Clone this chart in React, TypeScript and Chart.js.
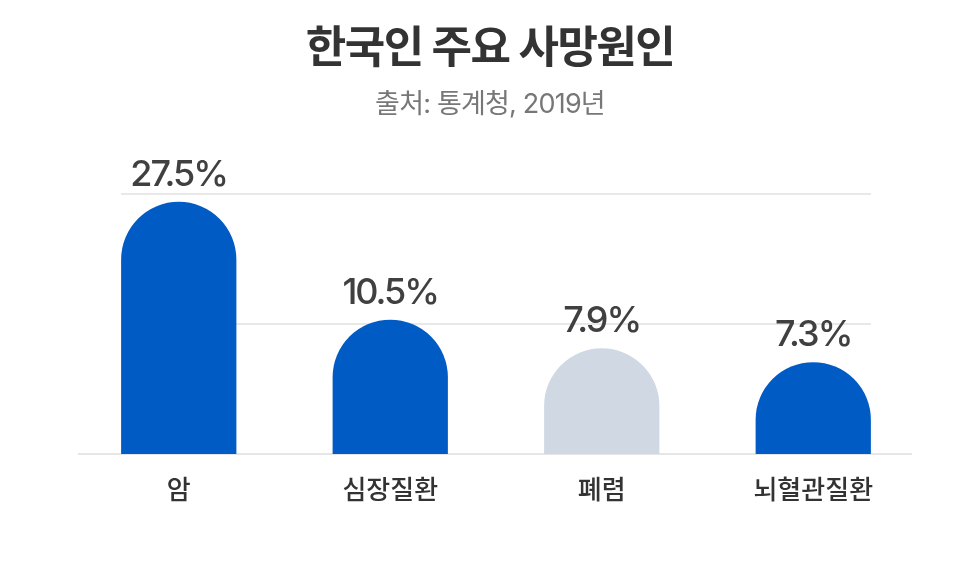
import React, { useEffect, useRef } from 'react';
import { Chart, registerables } from 'chart.js';

Chart.register(...registerables);

// Categories and the displayed share (label text) of each cause of death
const categories = ['암', '심장질환', '폐렴', '뇌혈관질환'];
const shareValues = [27.5, 10.5, 7.9, 7.3];
// The reference's bars are not drawn proportionally to the shares; these are the
// bar heights, in units of the (hidden) y axis 0–30.
const barHeights = [29.1, 15.5, 12.2, 10.6];
// bars start a little below the baseline (clipped away) so every cap is a full half-circle
const barStart = -8;
const barColors = ['#005BC4', '#005BC4', '#D0D8E3', '#005BC4'];
const gridTicks = [15, 30];
const titleText = '한국인 주요 사망원인';
const subtitleText = '출처: 통계청, 2019년';

const FONT = 'Inter, "Noto Sans CJK KR", "Noto Sans", sans-serif';

const decorPlugin = {
  id: 'decor',
  beforeDatasetsDraw(chart: any) {
    const ctx = chart.ctx;
    const meta = chart.getDatasetMeta(0);
    const first = meta.data[0];
    const last = meta.data[meta.data.length - 1];
    const left = first.x - first.width / 2;
    const right = last.x + last.width / 2;
    const y = chart.scales.y;
    ctx.save();
    ctx.strokeStyle = '#E8E8E8';
    ctx.lineWidth = 2;
    gridTicks.forEach((t) => {
      const py = Math.round(y.getPixelForValue(t));
      ctx.beginPath();
      ctx.moveTo(left, py);
      ctx.lineTo(right, py);
      ctx.stroke();
    });
    const by = Math.round(y.getPixelForValue(0));
    ctx.strokeStyle = '#E6E6E6';
    ctx.beginPath();
    ctx.moveTo(chart.chartArea.left + 5, by);
    ctx.lineTo(chart.chartArea.right - 7, by);
    ctx.stroke();
    ctx.restore();
  },
  afterDatasetsDraw(chart: any) {
    const ctx = chart.ctx;
    const meta = chart.getDatasetMeta(0);
    ctx.save();
    ctx.font = `500 36px ${FONT}`;
    (ctx as any).letterSpacing = '-2px';
    ctx.fillStyle = '#404040';
    ctx.textAlign = 'center';
    ctx.textBaseline = 'alphabetic';
    meta.data.forEach((bar: any, i: number) => {
      ctx.fillText(`${shareValues[i]}%`, bar.x, bar.y - 16);
    });
    ctx.restore();
  },
  afterDraw(chart: any) {
    const ctx = chart.ctx;
    const cx = chart.width / 2;
    ctx.save();
    ctx.textAlign = 'center';
    ctx.textBaseline = 'middle';
    ctx.font = `bold 44px ${FONT}`;
    (ctx as any).letterSpacing = '-1.5px';
    ctx.fillStyle = '#333333';
    ctx.fillText(titleText, cx, 50);
    ctx.font = `400 27px ${FONT}`;
    (ctx as any).letterSpacing = '-0.8px';
    ctx.fillStyle = '#777777';
    ctx.fillText(subtitleText, cx, 105);
    ctx.restore();
  },
};

export default function App() {
  const ref = useRef<HTMLCanvasElement | null>(null);
  useEffect(() => {
    if (!ref.current) return;
    const chart = new Chart(ref.current, {
      type: 'bar',
      data: {
        labels: categories,
        datasets: [
          {
            data: barHeights.map((h) => [barStart, h]) as any,
            backgroundColor: barColors,
            borderWidth: 0,
            borderRadius: { topLeft: 200, topRight: 200, bottomLeft: 0, bottomRight: 0 },
            borderSkipped: 'bottom',
            categoryPercentage: 1,
            barPercentage: 0.545,
            clip: 0,
          } as any,
        ],
      },
      options: {
        responsive: true,
        maintainAspectRatio: false,
        animation: false,
        layout: { padding: { top: 194, left: 73, right: 61, bottom: 0 } },
        plugins: {
          legend: { display: false },
          tooltip: { enabled: false },
          title: { display: false },
        },
        scales: {
          x: {
            grid: { display: false },
            border: { display: false },
            ticks: {
              color: '#333333',
              font: { family: FONT, size: 26, weight: 500 },
              padding: 14,
            },
            afterFit: (s: any) => {
              s.height = 112;
            },
          },
          y: {
            display: false,
            min: 0,
            max: 30,
          },
        },
      },
      plugins: [decorPlugin],
    });
    return () => chart.destroy();
  }, []);
  return (
    <div style={{ position: 'fixed', left: 0, top: 0, width: 980, height: 566, background: '#fff' }}>
      <canvas ref={ref} />
    </div>
  );
}
